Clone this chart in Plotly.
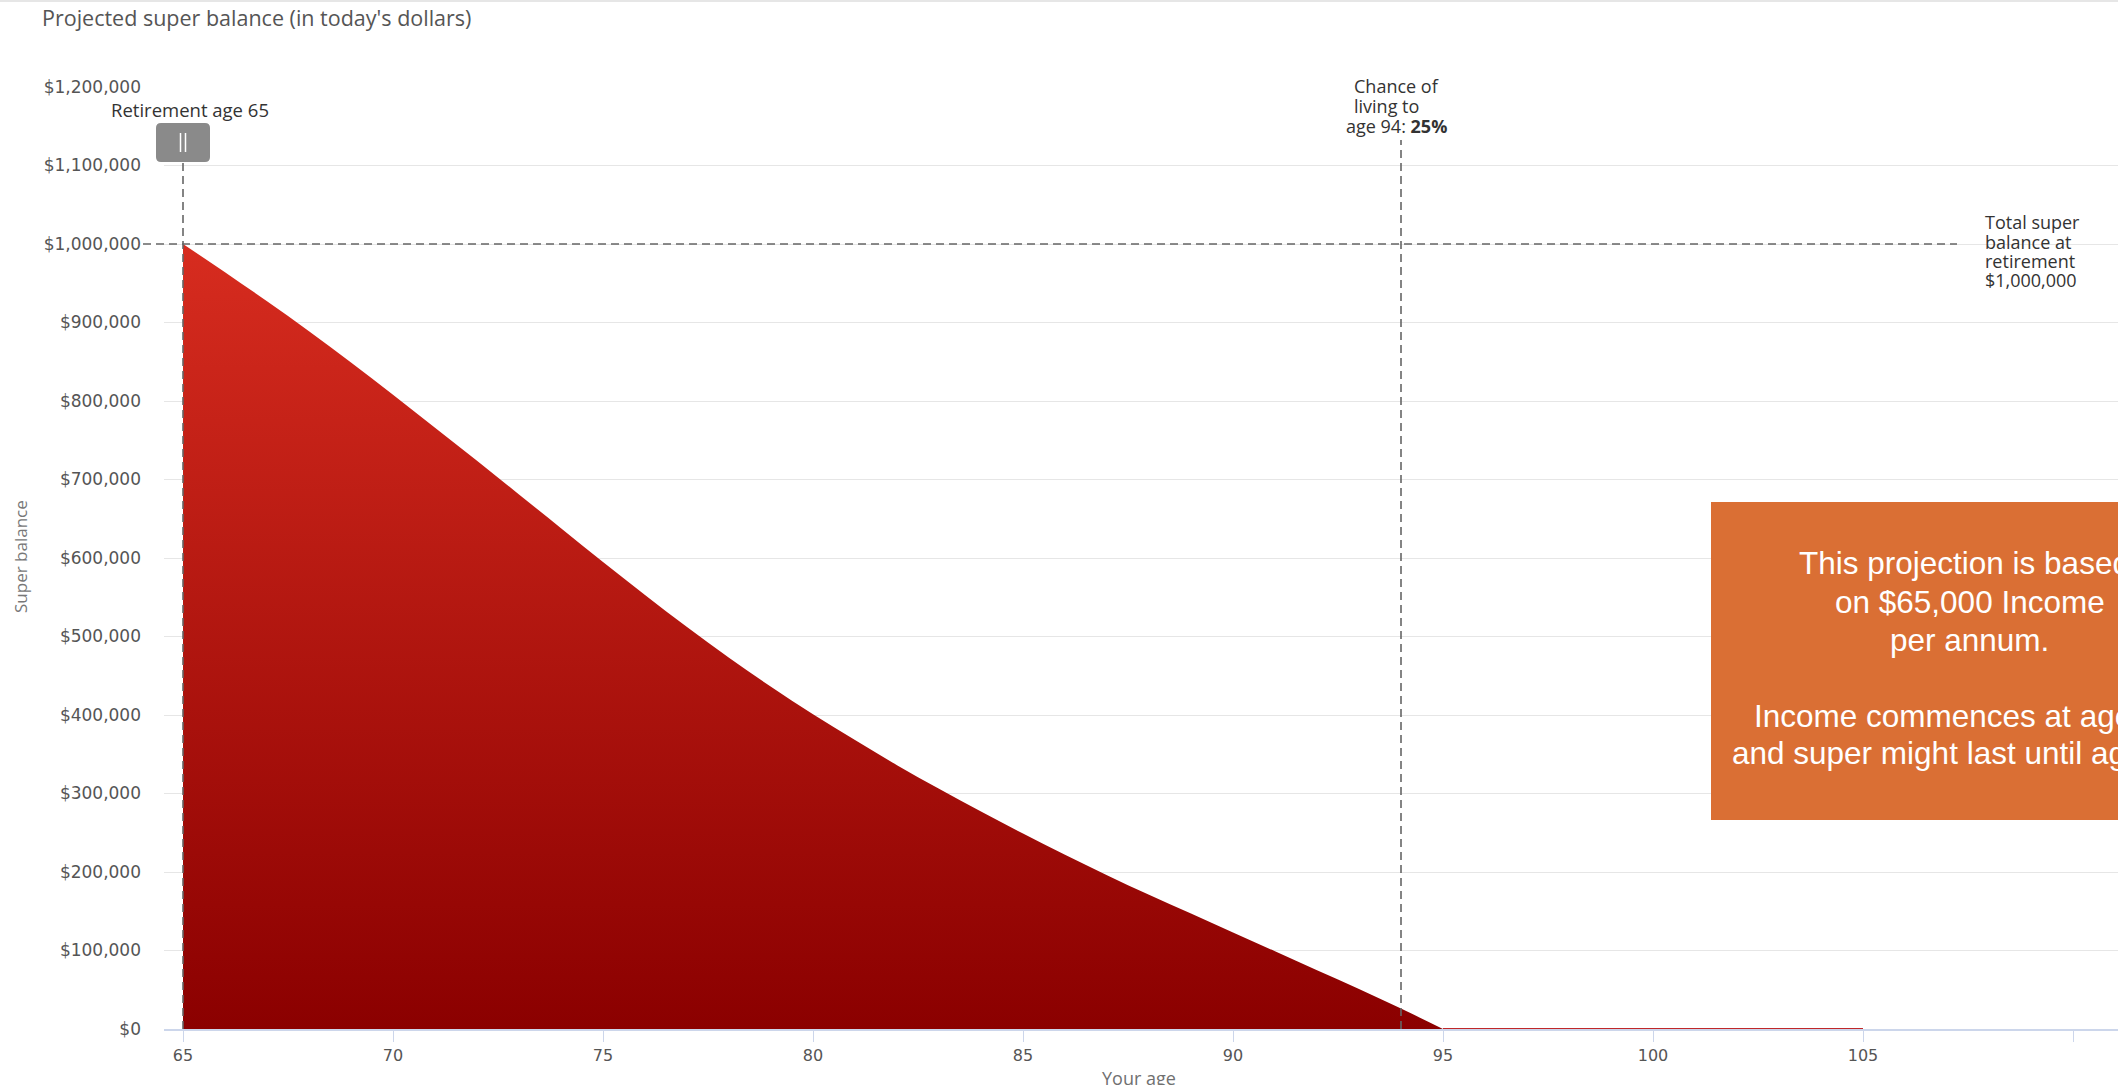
import plotly.graph_objects as go

# ---- data -------------------------------------------------------------
ages = list(range(65, 106))
balance = [
    1000000, 964000, 927000, 889000, 849000, 808000, 766000, 724000, 681000, 638000,
    595000, 553000, 512000, 473000, 436000, 401000, 368000, 336000, 306000, 277000,
    249000, 222000, 196000, 171000, 147000, 123000, 99000, 75000, 51000, 26000,
    0, 0, 0, 0, 0, 0, 0, 0, 0, 0, 0,
]
retirement_age = 65
chance_age = 94
chance_pct = 25
retirement_balance = 1000000
income_pa = 65000
last_age = 95

x_tickvals = [65, 70, 75, 80, 85, 90, 95, 100, 105, 110]
x_ticktext = ["65", "70", "75", "80", "85", "90", "95", "100", "105", ""]
y_tickvals = [0, 100000, 200000, 300000, 400000, 500000, 600000,
              700000, 800000, 900000, 1000000, 1100000, 1200000]
y_ticktext = ["$" + f"{v:,}" for v in y_tickvals]

# ---- page geometry (pixels) ------------------------------------------
W, H = 2118, 1085
L, R, T, B = 164, 2118, 87, 1029
PX_PER_YEAR = 42.0
x_min = 65 - (183 - L) / PX_PER_YEAR
x_max = x_min + (R - L) / PX_PER_YEAR


def px(xp):
    return (xp - L) / (R - L)


def py(yp):
    return (B - yp) / (B - T)


DASH = "8px,5px"
DASH_COLOR = "#666666"

fig = go.Figure()

# split the series: the draw-down part is a filled spline,
# the exhausted part is a flat line on zero
first_zero = balance.index(0)
area_x = ages[: first_zero + 1]
area_y = balance[: first_zero + 1]
zero_x = ages[first_zero:]
zero_y = balance[first_zero:]

fig.add_trace(go.Scatter(
    x=area_x, y=area_y, mode="lines", fill="tozeroy",
    line=dict(width=0, color="#b01c14", shape="spline", smoothing=1.0),
    fillgradient=dict(type="vertical",
                      colorscale=[[0, "#8b0000"], [1, "#d72c1f"]]),
    hoverinfo="skip",
))
fig.add_trace(go.Scatter(
    x=zero_x, y=zero_y, mode="lines",
    line=dict(width=2, color="#c0282a"), hoverinfo="skip",
))

shapes = []
# top border of the panel
shapes.append(dict(type="line", xref="paper", yref="paper",
                   x0=px(0), x1=px(W), y0=py(1), y1=py(1),
                   line=dict(color="#e6e6e6", width=2)))
# white gaps behind the label texts (between grid and series)
shapes.append(dict(type="rect", xref="paper", yref="paper", layer="between",
                   x0=px(1323), x1=px(1478), y0=py(80), y1=py(94),
                   fillcolor="white", line=dict(width=0)))
shapes.append(dict(type="rect", xref="paper", yref="paper", layer="between",
                   x0=px(1958), x1=px(2102), y0=py(236), y1=py(250),
                   fillcolor="white", line=dict(width=0)))
# balance at retirement
shapes.append(dict(type="line", xref="paper", yref="y",
                   x0=px(143), x1=px(1957),
                   y0=retirement_balance, y1=retirement_balance,
                   line=dict(color=DASH_COLOR, width=1.6, dash=DASH)))
# retirement age marker
shapes.append(dict(type="line", xref="x", yref="paper",
                   x0=retirement_age, x1=retirement_age, y0=0, y1=py(162),
                   line=dict(color=DASH_COLOR, width=1.6, dash=DASH)))
# chance-of-living marker
shapes.append(dict(type="line", xref="x", yref="paper",
                   x0=chance_age, x1=chance_age, y0=0, y1=py(140),
                   line=dict(color=DASH_COLOR, width=1.6, dash=DASH)))

# drag handle above the retirement marker
hx0, hx1, hy0, hy1, rr = 156, 210, 123, 162, 5
path = (
    f"M {px(hx0 + rr)},{py(hy0)} L {px(hx1 - rr)},{py(hy0)} "
    f"Q {px(hx1)},{py(hy0)} {px(hx1)},{py(hy0 + rr)} "
    f"L {px(hx1)},{py(hy1 - rr)} Q {px(hx1)},{py(hy1)} {px(hx1 - rr)},{py(hy1)} "
    f"L {px(hx0 + rr)},{py(hy1)} Q {px(hx0)},{py(hy1)} {px(hx0)},{py(hy1 - rr)} "
    f"L {px(hx0)},{py(hy0 + rr)} Q {px(hx0)},{py(hy0)} {px(hx0 + rr)},{py(hy0)} Z"
)
shapes.append(dict(type="path", xref="paper", yref="paper", path=path,
                   fillcolor="#8a8a8a", line=dict(width=0)))
for bx in (180.5, 185.5):
    shapes.append(dict(type="line", xref="paper", yref="paper",
                       x0=px(bx), x1=px(bx), y0=py(133), y1=py(152),
                       line=dict(color="white", width=1.5)))

# orange note box
shapes.append(dict(type="rect", xref="paper", yref="paper", layer="above",
                   x0=px(1711), x1=px(2240), y0=py(502), y1=py(820),
                   fillcolor="#da6f34", line=dict(width=0)))


def ann(text, xp, yp, size, color="#333333", xanchor="left",
        family="Open Sans", angle=0):
    return dict(text=text, x=px(xp), y=py(yp), xref="paper", yref="paper",
                xanchor=xanchor, yanchor="middle", showarrow=False,
                textangle=angle, font=dict(family=family, size=size, color=color))


annotations = [
    ann("Projected super balance (in today's dollars)", 40, 18, 21.5, "#555555"),
    ann(f"Retirement age {retirement_age}", 190, 109, 18.5, "#333333", "center"),
    ann("Chance of", 1352, 86, 18, "#333333"),
    ann("living to", 1352, 106, 18, "#333333"),
    ann(f"age {chance_age}: <b>{chance_pct}%</b>", 1344, 126, 18, "#333333"),
    ann("Total super", 1983, 222, 18, "#333333"),
    ann("balance at", 1983, 242, 18, "#333333"),
    ann("retirement", 1983, 261, 18, "#333333"),
    ann("$" + f"{retirement_balance:,}", 1983, 280, 18, "#333333"),
    ann("Your age", 1139, 1078, 18, "#707070", "center"),
    ann("Super balance", 20, 557, 17, "#777777", "center", angle=-90),
]

note_font = "Liberation Sans, Arial"
note_lines = [
    ("This projection is based", 1797, 563),
    ("on $" + f"{income_pa:,}" + " Income", 1833, 602),
    ("per annum.", 1888, 640),
    (f"Income commences at age {retirement_age}", 1752, 716),
    (f"and super might last until age {last_age}", 1730, 753),
]
for txt, xl, yc in note_lines:
    annotations.append(ann(txt, xl, yc, 31.5, "white", "left", note_font))

fig.update_layout(
    width=W, height=H,
    margin=dict(l=L, r=W - R, t=T, b=H - B, pad=0),
    paper_bgcolor="white", plot_bgcolor="white",
    showlegend=False,
    font=dict(family="Open Sans", color="#333333"),
    shapes=shapes, annotations=annotations,
    xaxis=dict(
        range=[x_min, x_max], tickvals=x_tickvals, ticktext=x_ticktext,
        ticks="outside", ticklen=11, tickcolor="#ccd6eb", tickwidth=1,
        showline=True, linecolor="#ccd6eb", linewidth=2,
        showgrid=False, zeroline=False,
        tickfont=dict(family="DejaVu Sans", size=16, color="#555555"),
        fixedrange=True,
    ),
    yaxis=dict(
        range=[0, 1200000], tickvals=y_tickvals, ticktext=y_ticktext,
        showgrid=True, gridcolor="#e6e6e6", gridwidth=1,
        zeroline=False, showline=False, ticks="",
        ticklabelstandoff=22,
        tickfont=dict(family="DejaVu Sans", size=17, color="#555555"),
        fixedrange=True,
    ),
)

fig.write_html("out.html")
